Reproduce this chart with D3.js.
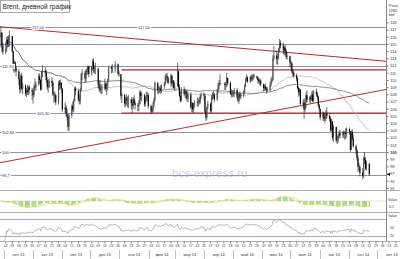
<!DOCTYPE html>
<html>
<head>
<meta charset="utf-8">
<script src="https://cdn.jsdelivr.net/npm/d3@7"></script>
<style>
  body { margin: 0; background: #fff; }
  svg { display: block; font-family: "Liberation Sans", Arial, sans-serif; }
</style>
</head>
<body>
<svg id="chart" width="400" height="259"></svg>
<script>
// ---- data (Brent, daily) ----
var startDay = "2013-08-28", endDay = "2014-09-22";
var holidays = ["2013-12-25", "2013-12-26", "2014-01-01", "2014-04-18", "2014-04-21"];
var firstOpen = 115.9;

// one row per week
var closes = [
  116.6,114.8,114.0,
  114.3,115.6,115.0,115.9,116.1,
  114.0,111.6,112.5,111.7,111.2,
  110.1,108.7,110.6,108.8,109.2,
  108.1,108.6,108.3,109.0,108.6,
  108.4,107.9,109.1,109.0,109.5,
  110.5,110.0,108.7,111.1,111.3,
  111.0,110.0,109.0,109.0,109.9,
  109.6,108.0,107.9,107.9,106.9,
  109.6,109.3,109.6,108.8,105.9,
  106.2,105.3,104.9,103.5,105.1,
  106.4,105.9,107.1,108.8,108.5,
  107.3,107.1,108.6,110.8,111.0,
  110.2,111.3,111.2,111.9,110.8,
  111.8,112.6,111.5,111.6,111.6,
  109.4,108.9,108.6,108.7,108.8,
  109.5,108.8,109.2,110.1,111.8,
  111.6,111.5,112.2,
  110.9,110.8,107.8,107.9,
  106.7,107.4,107.2,107.2,107.3,
  106.8,106.4,107.4,106.8,106.5,
  106.4,106.7,108.3,107.8,107.9,
  106.7,107.4,107.9,107.9,106.4,
  105.6,105.8,106.5,107.2,109.6,
  108.6,108.7,108.8,108.6,109.1,
  109.5,110.5,110.5,110.3,109.6,
  110.6,109.5,109.9,108.9,109.1,
  111.2,109.0,107.8,107.1,108.6,
  108.1,108.4,108.0,107.4,108.0,
  106.2,106.8,105.9,106.5,106.9,
  106.8,107.1,107.0,107.8,108.0,
  107.8,105.6,104.8,106.2,106.7,
  105.7,107.7,108.0,107.9,107.3,
  108.6,109.3,109.6,109.5,
  109.3,109.3,110.3,109.6,
  108.1,108.0,108.1,108.1,108.6,
  107.7,107.1,108.0,107.7,107.9,
  108.4,109.2,110.2,110.4,109.8,
  110.4,110.1,110.5,110.6,110.5,
  110.3,110.0,109.8,109.9,109.4,
  108.9,109.1,108.8,108.6,108.6,
  109.4,109.9,110.0,113.0,113.4,
  112.9,113.5,114.3,115.1,114.8,
  114.1,114.5,114.0,113.2,113.3,
  112.4,112.3,111.2,111.0,110.6,
  110.2,108.9,108.3,108.7,106.7,
  106.9,105.9,106.9,107.9,107.2,
  107.6,107.3,108.0,107.1,108.4,
  108.1,107.7,106.5,106.0,104.8,
  105.4,104.6,104.6,105.4,105.0,
  104.6,103.0,104.3,102.0,103.5,
  101.6,101.6,102.3,102.6,102.3,
  102.7,102.5,102.7,102.5,103.2,
  102.8,100.3,102.8,101.8,100.8,
  100.2,99.2,98.0,97.9,97.1,
  96.7,99.1,98.9,97.7,98.4,
  96.9
];

var highs = [
  117.3,116.6,115.2,
  115.3,116.0,116.1,116.2,116.8,
  116.0,114.0,112.8,112.6,112.0,
  111.6,110.3,110.8,111.0,109.6,
  109.4,108.9,109.3,109.2,109.3,
  108.9,108.8,109.4,110.2,109.8,
  110.9,110.9,110.1,111.3,112.0,
  111.8,111.4,110.4,110.1,110.2,
  110.4,109.9,108.4,108.4,108.1,
  109.9,110.0,110.1,109.7,108.9,
  106.9,106.5,106.0,105.2,105.3,
  106.6,107.0,107.4,109.0,109.1,
  108.8,108.0,108.9,111.0,111.5,
  111.3,111.5,111.7,112.0,112.0,
  112.0,112.9,113.0,112.0,112.4,
  111.5,109.8,110.0,109.4,109.4,
  110.2,109.7,109.6,110.2,112.0,
  112.0,112.2,112.6,
  112.3,111.3,110.8,108.2,
  108.1,107.6,108.0,107.7,107.9,
  107.6,107.3,107.6,107.9,107.1,
  106.8,107.2,108.5,108.6,108.2,
  108.1,107.7,108.4,108.3,108.2,
  106.6,106.2,107.0,107.5,109.8,
  109.7,109.1,109.1,109.3,109.4,
  109.7,110.8,110.9,111.0,110.5,
  110.9,110.7,110.0,110.0,109.6,
  112.4,111.3,109.4,108.4,109.0,
  109.1,108.8,108.6,108.6,108.4,
  108.3,107.0,106.9,106.8,107.2,
  107.6,107.4,107.6,108.0,108.3,
  108.3,108.0,105.8,106.3,107.1,
  106.9,107.9,108.3,108.5,108.2,
  108.8,109.6,110.0,110.8,
  109.7,109.7,111.0,110.3,
  109.8,108.7,108.6,108.6,108.9,
  108.9,108.2,108.3,108.4,108.2,
  108.6,109.4,110.3,110.8,110.5,
  110.6,110.7,110.8,110.9,110.8,
  110.6,110.5,110.3,110.2,110.1,
  109.5,109.4,109.5,109.1,109.0,
  109.7,110.3,110.5,113.5,114.7,
  114.1,113.7,114.5,115.7,115.5,
  115.2,114.7,114.9,114.3,113.7,
  113.4,112.7,112.5,111.5,111.3,
  110.9,110.4,109.1,108.9,108.7,
  107.3,107.5,107.2,108.3,108.6,
  107.8,107.9,108.4,108.5,108.6,
  108.8,108.3,107.8,106.7,106.0,
  105.6,105.6,105.0,105.8,106.2,
  105.3,104.9,104.6,104.2,103.8,
  103.1,102.2,102.5,103.0,103.1,
  102.9,103.0,102.9,103.3,103.4,
  103.4,102.9,103.0,103.2,102.4,
  101.0,100.4,99.5,98.5,98.2,
  97.8,99.4,100.0,99.3,98.8,
  98.4
];

var lows = [
  114.5,113.8,113.5,
  113.6,113.9,114.5,114.6,114.6,
  113.8,111.2,111.0,111.2,110.5,
  109.3,108.1,108.2,108.6,108.0,
  107.8,107.6,107.9,107.9,108.1,
  107.3,106.7,107.6,108.6,108.5,
  109.2,109.4,108.5,108.6,110.4,
  110.5,109.6,108.6,108.2,108.9,
  109.1,107.8,106.8,107.1,106.5,
  106.6,108.6,108.8,108.2,105.5,
  105.4,104.9,104.4,102.9,102.9,
  104.7,105.6,105.5,107.0,107.9,
  107.0,106.6,106.6,108.4,109.9,
  109.7,109.6,110.7,110.8,110.4,
  110.6,111.3,111.0,110.9,110.8,
  108.8,108.4,108.2,108.0,108.1,
  108.6,108.4,107.9,108.6,109.8,
  110.9,111.0,111.0,
  110.6,110.4,107.3,106.8,
  106.2,106.3,106.5,106.2,106.1,
  105.9,105.4,106.0,106.6,105.9,
  105.6,105.7,106.6,107.2,107.0,
  106.3,106.3,107.0,107.1,106.0,
  105.3,105.4,105.5,106.2,107.0,
  108.1,108.0,108.2,108.1,108.2,
  108.8,109.3,109.9,109.6,109.4,
  109.0,109.2,108.9,108.7,108.5,
  109.4,108.8,107.6,106.9,107.0,
  107.8,107.5,107.3,107.0,106.9,
  106.0,105.6,105.5,105.4,106.2,
  106.3,106.3,106.6,106.7,107.4,
  107.2,105.4,104.3,104.5,105.9,
  105.4,105.5,107.2,107.4,106.9,
  107.1,108.2,108.7,109.2,
  108.6,108.6,109.0,109.3,
  107.9,107.6,107.6,107.7,107.6,
  107.4,106.9,106.7,107.4,107.3,
  107.6,108.1,109.0,109.8,109.6,
  109.6,109.8,109.8,110.0,110.2,
  110.1,109.5,109.5,109.3,109.1,
  108.4,108.5,108.6,108.1,108.3,
  108.4,109.1,109.6,109.9,112.7,
  112.2,112.1,112.9,113.9,114.4,
  113.6,113.4,113.5,112.9,112.8,
  111.8,111.6,110.9,110.5,110.3,
  109.8,108.7,107.7,107.9,106.5,
  106.1,104.6,105.6,106.1,106.9,
  106.9,106.7,107.1,106.9,106.9,
  107.7,107.3,106.2,105.6,104.4,
  104.3,104.3,104.0,104.3,104.6,
  104.2,102.8,102.9,101.6,101.4,
  101.3,101.1,101.3,101.9,101.9,
  101.9,102.0,101.7,101.8,102.0,
  102.4,100.0,100.4,101.6,100.6,
  99.7,98.8,97.2,97.4,96.6,
  96.2,96.4,98.3,97.5,97.4,
  96.7
];

// horizontal levels and their captions
var levels      = [117.36, 115.0, 111.94, 105.42, 102.82, 100, 96.8];
var levelTexts  = ["117,00", "", "111,94", "105,30", "102,84", "100", "96,7"];

// red lines: [start date, price], [end date, price]
var trendLines = [
  [["2013-08-27", 117.4], ["2014-10-11", 112.6]],
  [["2013-08-27", 98.5],  ["2014-10-11", 108.7]],
  [["2014-01-03", 111.4], ["2014-10-11", 111.4]],
  [["2014-01-03", 105.4], ["2014-10-11", 105.4]]
];

var maPeriods = [50, 100];
var rsiBands = [80, 20];
var rsiLabels = [50, 20];
var priceTicks = [95,96,97,98,99,100,101,102,103,104,105,106,107,108,109,110,111,112,113,114,115,116,117,118];
var monthNames = ["сен 13","окт 13","ноя 13","дек 13","янв 14","фев 14","мар 14",
                  "апр 14","май 14","июн 14","июл 14","авг 14","сен 14","окт 14"];

// ---- layout ----
var W = 400, H = 259, PR = 386;
var MAIN_B = 190, MACD_T = 191, MACD_B = 212, RSI_T = 213, RSI_B = 241;

var parseDay = d3.timeParse("%Y-%m-%d");
var fmtDay = d3.timeFormat("%Y-%m-%d");

var days = d3.timeDay.range(parseDay(startDay), d3.timeDay.offset(parseDay(endDay), 1))
  .filter(function (d) { return d.getDay() % 6 !== 0 && holidays.indexOf(fmtDay(d)) < 0; });

var n = Math.min(days.length, closes.length, highs.length, lows.length);
var bars = [];
for (var i = 0; i < n; i++) {
  var o = i ? closes[i - 1] : firstOpen, c = closes[i];
  bars.push({
    date: d3.timeHour.offset(days[i], 12),
    o: o, c: c,
    h: Math.max(highs[i], o, c),
    l: Math.min(lows[i], o, c)
  });
}

var x = d3.scaleTime().domain([new Date(2013, 7, 27, 12), new Date(2014, 9, 25)]).range([0, W]);
var y = d3.scaleLinear().domain([100 - (MAIN_B - 152) / 7.2, 100 + 152 / 7.2]).range([MAIN_B, 0]);
var yMacd = d3.scaleLinear().domain([-3, 3]).range([MACD_B - 1, MACD_T]);
var yRsi = d3.scaleLinear().domain([20, 80]).range([236, 219]);

// ---- indicators ----
function sma(vals, p) {
  return vals.map(function (v, i) {
    var s = Math.max(0, i - p + 1);
    return d3.mean(vals.slice(s, i + 1));
  });
}
function ema(vals, p) {
  var k = 2 / (p + 1), out = [];
  vals.forEach(function (v, i) { out.push(i ? v * k + out[i - 1] * (1 - k) : v); });
  return out;
}
function rsi(vals, p) {
  var ag = 0, al = 0, out = [null];
  for (var i = 1; i < vals.length; i++) {
    var ch = vals[i] - vals[i - 1];
    var g = Math.max(ch, 0), l = Math.max(-ch, 0);
    var m = Math.min(i, p);
    ag = (ag * (m - 1) + g) / m;
    al = (al * (m - 1) + l) / m;
    out.push(al === 0 ? 100 : 100 - 100 / (1 + ag / al));
  }
  return out;
}

var cl = bars.map(function (b) { return b.c; });
var e12 = ema(cl, 12), e26 = ema(cl, 26);
var macd = e12.map(function (v, i) { return v - e26[i]; });
var signal = ema(macd, 9);
var rsiVals = rsi(cl, 14);

// ---- drawing ----
var svg = d3.select("#chart");
svg.append("rect").attr("width", W).attr("height", H).attr("fill", "#fff");

var defs = svg.append("defs");
defs.append("clipPath").attr("id", "clip-main")
  .append("rect").attr("x", 0).attr("y", 0).attr("width", PR).attr("height", MAIN_B);
defs.append("clipPath").attr("id", "clip-rsi")
  .append("rect").attr("x", 0).attr("y", RSI_T).attr("width", PR).attr("height", RSI_B - RSI_T);

var main = svg.append("g").attr("clip-path", "url(#clip-main)");

// watermark
main.append("text")
  .attr("x", 172).attr("y", 177)
  .attr("font-size", 11.5).attr("fill", "#cfcfcf")
  .text("bcs-express.ru");

// blue level lines
function crisp(v) { return Math.round(v) + 0.5; }
main.selectAll(".level").data(levels).enter().append("line")
  .attr("x1", 0).attr("x2", PR)
  .attr("y1", function (d) { return crisp(y(d)); })
  .attr("y2", function (d) { return crisp(y(d)); })
  .attr("stroke", "#8d94bf").attr("stroke-width", 1);

// red lines
main.selectAll(".trend").data(trendLines).enter().append("line")
  .attr("x1", function (d) { return x(parseDay(d[0][0])); })
  .attr("y1", function (d) { return y(d[0][1]); })
  .attr("x2", function (d) { return x(parseDay(d[1][0])); })
  .attr("y2", function (d) { return y(d[1][1]); })
  .attr("stroke", "#c0272d").attr("stroke-width", 1.1);

// moving averages
var maColors = ["#b4b4b4", "#6e6e6e"];
maPeriods.forEach(function (p, k) {
  var vals = sma(cl, p);
  main.append("path")
    .datum(bars.map(function (b, i) { return { date: b.date, v: vals[i] }; }).slice(6))
    .attr("fill", "none").attr("stroke", maColors[k]).attr("stroke-width", 0.8)
    .attr("d", d3.line().x(function (d) { return x(d.date); }).y(function (d) { return y(d.v); }));
});

// candles
var cw = 1.1;
var candles = main.selectAll(".candle").data(bars).enter().append("g");
candles.append("line")
  .attr("x1", function (d) { return x(d.date); }).attr("x2", function (d) { return x(d.date); })
  .attr("y1", function (d) { return y(d.h); }).attr("y2", function (d) { return y(d.l); })
  .attr("stroke", "#111").attr("stroke-width", 0.6);
candles.append("rect")
  .attr("x", function (d) { return x(d.date) - cw / 2; })
  .attr("width", cw)
  .attr("y", function (d) { return y(Math.max(d.o, d.c)); })
  .attr("height", function (d) { return Math.max(0.5, Math.abs(y(d.o) - y(d.c))); })
  .attr("fill", function (d) { return d.c >= d.o ? "#555" : "#000"; });

// level captions
var capX = [[32, 138], [], [2], [37], [2], [2], [2]];
levels.forEach(function (lv, k) {
  if (!levelTexts[k]) return;
  capX[k].forEach(function (cx) {
    var g = main.append("g").attr("transform", "translate(" + cx + "," + crisp(y(lv)) + ")");
    var t = g.append("text").attr("y", 1.4).attr("font-size", 4).attr("fill", "#2a2f7a").text(levelTexts[k]);
    var bb = t.node().getBBox();
    g.insert("rect", "text").attr("x", bb.x - 0.5).attr("y", bb.y).attr("width", bb.width + 1)
      .attr("height", bb.height).attr("fill", "#fff");
  });
});

// frames
svg.append("line").attr("x1", crisp(PR)).attr("x2", crisp(PR)).attr("y1", 0).attr("y2", RSI_B)
  .attr("stroke", "#888");
[MAIN_B, MACD_B, RSI_B].forEach(function (v) {
  svg.append("line").attr("x1", 0).attr("x2", W).attr("y1", v + 0.5).attr("y2", v + 0.5)
    .attr("stroke", "#999").attr("stroke-width", 0.8);
});

// right price axis
var pAxis = svg.append("g").attr("transform", "translate(" + crisp(PR) + ",0)")
  .call(d3.axisRight(y).tickValues(priceTicks).tickSize(2).tickPadding(1.5).tickFormat(d3.format("d")));
pAxis.select(".domain").remove();
pAxis.selectAll("line").attr("stroke", "#777");
pAxis.selectAll("text").attr("font-size", 4).attr("fill", "#333")
  .attr("font-weight", function (d) { return d === 100 ? "bold" : null; });
["Price", "USD", "bbl"].forEach(function (s, k) {
  svg.append("text").attr("x", 389).attr("y", 7 + k * 4.6).attr("font-size", 4).attr("fill", "#333").text(s);
});
// last price marker
var last = bars[bars.length - 1];
svg.append("path")
  .attr("d", "M" + (PR + 1) + "," + y(last.c) + "l3,-1.6v3.2z").attr("fill", "#000");

// MACD panel
svg.append("line").attr("x1", 0).attr("x2", PR).attr("y1", yMacd(0)).attr("y2", yMacd(0))
  .attr("stroke", "#ccc").attr("stroke-width", 0.5);
svg.selectAll(".mbar").data(bars).enter().append("rect")
  .attr("x", function (d) { return x(d.date) - 0.5; })
  .attr("width", 1)
  .attr("y", function (d, i) { return Math.min(yMacd(0), yMacd(macd[i])); })
  .attr("height", function (d, i) { return Math.abs(yMacd(macd[i]) - yMacd(0)); })
  .attr("fill", "#9fd47c");
svg.append("path")
  .datum(bars.map(function (b, i) { return { date: b.date, v: signal[i] }; }))
  .attr("fill", "none").attr("stroke", "#e9dc5a").attr("stroke-width", 0.9)
  .attr("d", d3.line().x(function (d) { return x(d.date); }).y(function (d) { return yMacd(d.v); }));
svg.append("text").attr("x", 388).attr("y", 201).attr("font-size", 3.6).attr("fill", "#333").text("Value");
svg.append("text").attr("x", 389).attr("y", 208).attr("font-size", 3.6).attr("fill", "#333").text("0,1");

// RSI panel
var rsiG = svg.append("g").attr("clip-path", "url(#clip-rsi)");
rsiBands.forEach(function (v) {
  rsiG.append("line").attr("x1", 0).attr("x2", PR).attr("y1", crisp(yRsi(v))).attr("y2", crisp(yRsi(v)))
    .attr("stroke", "#8d94bf").attr("stroke-width", 0.8);
});
rsiG.append("path")
  .datum(bars.map(function (b, i) { return { date: b.date, v: rsiVals[i] }; }).slice(1))
  .attr("fill", "none").attr("stroke", "#7d86a8").attr("stroke-width", 0.6)
  .attr("d", d3.line().x(function (d) { return x(d.date); }).y(function (d) { return yRsi(d.v); }));
svg.append("text").attr("x", 388).attr("y", 217).attr("font-size", 3.6).attr("fill", "#333").text("Value");
rsiLabels.forEach(function (v) {
  svg.append("text").attr("x", 390).attr("y", yRsi(v) + 1.3).attr("font-size", 3.6).attr("fill", "#333").text(v);
});

// date axis: weekly days, then months
var dAxis = svg.append("g").attr("transform", "translate(0," + (RSI_B + 0.5) + ")")
  .call(d3.axisBottom(x).ticks(d3.timeMonday.every(1)).tickFormat(d3.timeFormat("%d")).tickSize(2).tickPadding(1));
dAxis.select(".domain").remove();
dAxis.selectAll("line").attr("stroke", "#888");
dAxis.selectAll("text").attr("font-size", 3.4).attr("fill", "#444");

var monthStarts = d3.timeMonth.range(new Date(2013, 8, 1), new Date(2014, 10, 1));
monthStarts.forEach(function (m, k) {
  var x0 = x(m), x1 = x(d3.timeMonth.offset(m, 1));
  svg.append("line").attr("x1", crisp(x0)).attr("x2", crisp(x0)).attr("y1", 250).attr("y2", 259)
    .attr("stroke", "#999").attr("stroke-width", 0.6);
  svg.append("text").attr("x", (x0 + x1) / 2).attr("y", 255.5).attr("text-anchor", "middle")
    .attr("font-size", 4).attr("fill", "#333").text(monthNames[k]);
});

// title box
svg.append("rect").attr("x", 0.5).attr("y", 0.5).attr("width", 69).attr("height", 12)
  .attr("fill", "#fff").attr("stroke", "#999").attr("stroke-width", 0.8);
svg.append("text").attr("x", 2.5).attr("y", 9).attr("font-size", 6.6).attr("fill", "#222")
  .text("Brent, дневной график");
</script>
</body>
</html>
